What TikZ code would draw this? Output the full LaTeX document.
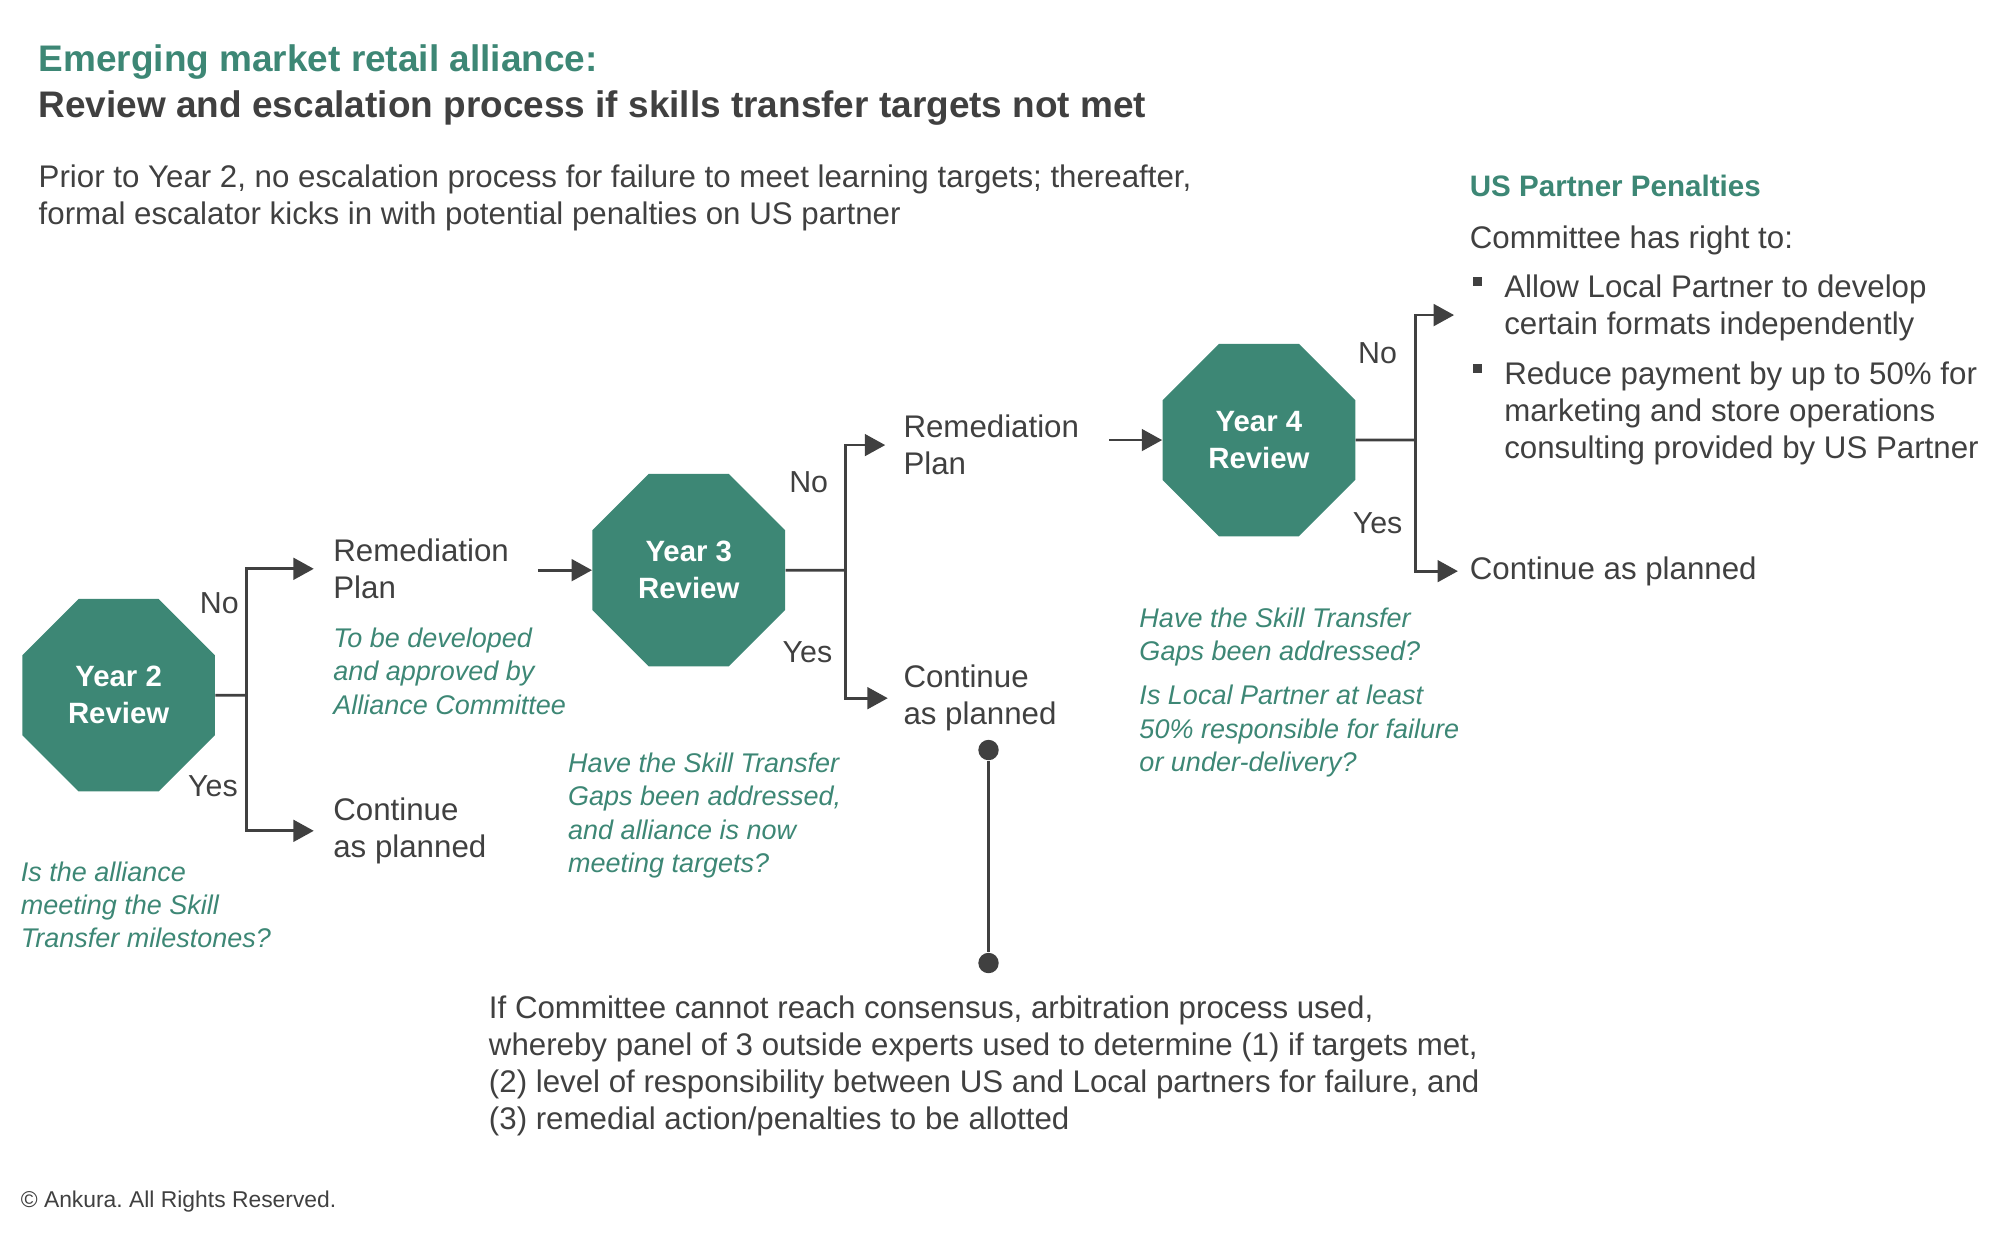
\documentclass[tikz,border=0pt]{standalone}
\usepackage{fontspec}
\setmainfont{Liberation Sans}
\usepackage{tikz}
\usetikzlibrary{arrows.meta,shapes.geometric}
\definecolor{wwwwww}{rgb}{0.25,0.25,0.25}
\definecolor{ttiiww}{rgb}{0.24,0.53,0.46}
\tikzset{
  review/.style={regular polygon,regular polygon sides=8,minimum size=3.27cm,inner sep=0pt,fill=ttiiww,text=white,font=\fontsize{13.1}{16.6}\selectfont\bfseries,align=center},
  txt/.style={anchor=north west,inner sep=0pt,yshift=-0.04cm,text=wwwwww,font=\fontsize{13.95}{16.6}\selectfont,align=left},
  ask/.style={anchor=north west,inner sep=0pt,yshift=-0.04cm,text=ttiiww,font=\fontsize{12.05}{14.9}\selectfont\itshape,align=left},
  yn/.style={inner sep=0pt,text=wwwwww,font=\fontsize{13.55}{16.6}\selectfont},
  conn/.style={draw=wwwwww,line width=1.25pt},
  dot/.style={circle,fill=wwwwww,inner sep=0pt,minimum size=0.32cm},
  sq/.style={rectangle,fill=wwwwww,inner sep=0pt,minimum size=0.14cm}
}
\begin{document}
\begin{tikzpicture}[line join=miter,>={Triangle[length=0.32cm,width=0.34cm]},x=0.02cm,y=-0.02cm]
\useasboundingbox (0,0) rectangle (1568,968);
% heading
\node[txt,text=ttiiww,font=\fontsize{16.5}{20}\selectfont\bfseries] (ttl) at (30,33) {Emerging market retail alliance:};
\node[txt,font=\fontsize{16.5}{20}\selectfont\bfseries] (ttlb) at (30,69) {Review and escalation process if skills transfer targets not met};
\node[txt] (intro) at (30,127) {Prior to Year 2, no escalation process for failure to meet learning targets; thereafter,\\formal escalator kicks in with potential penalties on US partner};
% year 2
\node[review] (y2) at (93,545) {Year 2\\Review};
\coordinate (b2) at (193,545);
\node[txt,text width=3.2cm] (rem2) at (261,420) {Remediation\\Plan};
\node[ask] (how2) at (261,490) {To be developed\\and approved by\\Alliance Committee};
\node[txt] (cont2) at (261,623) {Continue\\as planned};
\node[ask] (q2) at (16,673) {Is the alliance\\meeting the Skill\\Transfer milestones?};
\node[yn] (no2) at (172,473) {No};
\node[yn] (yes2) at (167,616) {Yes};
\draw[conn] (y2.east) -- (b2);
\draw[conn,->,shorten >=0.3cm] (b2) |- (rem2.west);
\draw[conn,->,shorten >=0.3cm] (b2) |- (cont2.west);
% year 3
\node[review] (y3) at (540,447) {Year 3\\Review};
\coordinate (b3) at (663,447);
\draw[conn,->] (y3.west -| rem2.east) -- (y3.west);
\node[txt,text width=3.22cm] (rem3) at (708,323) {Remediation\\Plan};
\node[txt] (cont3) at (708,519) {Continue\\as planned};
\node[ask] (q3) at (445,588) {Have the Skill Transfer\\Gaps been addressed,\\and alliance is now\\meeting targets?};
\node[yn] (no3) at (634,378) {No};
\node[yn] (yes3) at (633,511) {Yes};
\draw[conn] (y3.east) -- (b3);
\draw[conn,->,shorten >=0.28cm] (b3) |- (rem3.west);
\draw[conn,->,shorten >=0.24cm] (b3) |- (cont3.west);
% arbitration
\node[dot] (arb1) at (775,588) {};
\node[dot] (arb2) at (775,755) {};
\draw[conn] (arb1) -- (arb2);
\node[txt] (arb) at (383,778) {If Committee cannot reach consensus, arbitration process used,\\whereby panel of 3 outside experts used to determine (1) if targets met,\\(2) level of responsibility between US and Local partners for failure, and\\(3) remedial action/penalties to be allotted};
% year 4
\node[review] (y4) at (987,345) {Year 4\\Review};
\coordinate (b4) at (1110,345);
\coordinate (pen) at (1140,247);
\draw[conn,->] (y4.west -| rem3.east) -- (y4.west);
\node[yn] (no4) at (1080,277) {No};
\node[yn] (yes4) at (1080,410) {Yes};
\node[txt] (cont4) at (1152,434) {Continue as planned};
\node[ask] (q4) at (893,474) {Have the Skill Transfer\\Gaps been addressed?};
\node[ask] (q4b) at (893,535) {Is Local Partner at least\\50\% responsible for failure\\or under-delivery?};
\draw[conn] (y4.east) -- (b4);
\draw[conn,->] (b4) |- (pen);
\draw[conn,->,shorten >=0.18cm] (b4) |- (cont4.west);
% penalties
\node[txt,text=ttiiww,font=\fontsize{13.2}{16.6}\selectfont\bfseries] (pent) at (1152,135) {US Partner Penalties};
\node[txt] (right) at (1152,175) {Committee has right to:};
\node[sq] (sq1) at (1158,221) {};
\node[txt] (pen1) at (1179,213) {Allow Local Partner to develop\\certain formats independently};
\node[sq] (sq2) at (1158,289) {};
\node[txt] (pen2) at (1179,281) {Reduce payment by up to 50\% for\\marketing and store operations\\consulting provided by US Partner};
% footer
\node[txt,font=\fontsize{10.2}{12}\selectfont] (copy) at (16,931) {\textcopyright{} Ankura.\ All Rights Reserved.};
\end{tikzpicture}
\end{document}
